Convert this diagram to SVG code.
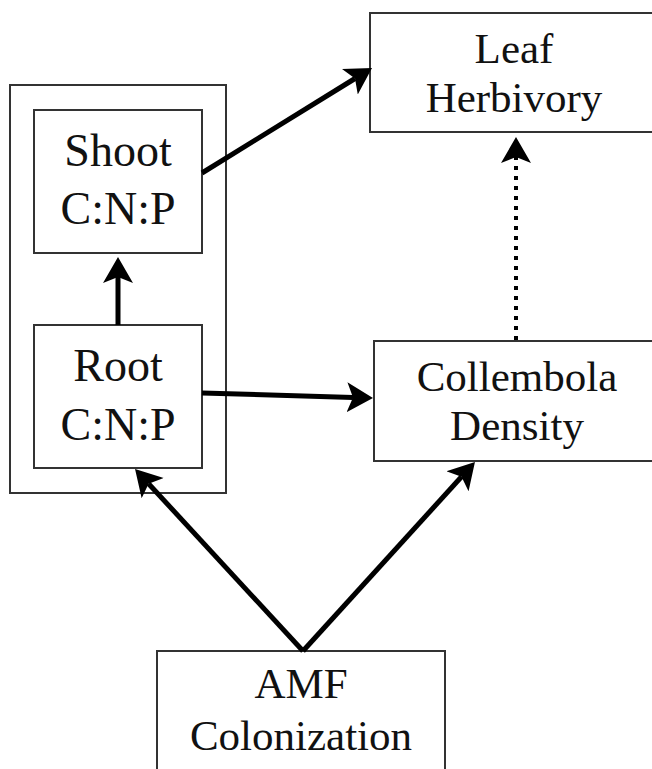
<svg xmlns="http://www.w3.org/2000/svg" width="652" height="769" viewBox="0 0 652 769">
<style>
.box{fill:#fff;stroke:#333;stroke-width:2}
.frame{fill:none;stroke:#333;stroke-width:2}
.t{font-family:"Liberation Serif","Times New Roman",serif;font-size:43px;fill:#111;text-anchor:middle}
.tl{font-size:46px}
.arr{fill:none;stroke:#000;stroke-width:5;marker-end:url(#ah)}
.dot{fill:none;stroke:#000;stroke-width:4;stroke-dasharray:4 6;marker-end:url(#ah)}
</style>
<defs>
<marker id="ah" markerUnits="userSpaceOnUse" viewBox="0 -16 28 32" markerWidth="28" markerHeight="32" refX="6" refY="0" orient="auto">
<path d="M26,0 L0,-15 L6,0 L0,15 Z" fill="#000"/>
</marker>
</defs>
<rect id="group-frame" class="frame" x="10" y="85" width="216" height="408"/>
<g id="shoot">
<rect class="box" x="34" y="110" width="168" height="143"/>
<text class="t tl" x="118" y="166">Shoot</text>
<text class="t tl" x="118" y="224">C:N:P</text>
</g>
<g id="root">
<rect class="box" x="34" y="325" width="168" height="143"/>
<text class="t tl" x="118" y="381">Root</text>
<text class="t tl" x="118" y="440">C:N:P</text>
</g>
<g id="leaf">
<rect class="box" x="370" y="13" width="290" height="119"/>
<text class="t" x="514" y="63">Leaf</text>
<text class="t" x="514" y="112">Herbivory</text>
</g>
<g id="collembola">
<rect class="box" x="374" y="341" width="290" height="120"/>
<text class="t" x="517" y="391">Collembola</text>
<text class="t" x="517" y="440">Density</text>
</g>
<g id="amf">
<rect class="box" x="157" y="651" width="288" height="130"/>
<text class="t" x="301" y="698">AMF</text>
<text class="t" x="301" y="750">Colonization</text>
</g>
<g id="connectors">
<line class="arr" x1="118" y1="325" x2="118" y2="277"/>
<line class="arr" x1="202" y1="173" x2="355" y2="78.5"/>
<line class="arr" x1="202" y1="393" x2="353" y2="397.4"/>
<line class="arr" x1="303" y1="651" x2="148.6" y2="483.7"/>
<line class="arr" x1="303" y1="651" x2="461.5" y2="476.8"/>
<line class="dot" x1="516" y1="340" x2="516" y2="157"/>
</g>
</svg>
